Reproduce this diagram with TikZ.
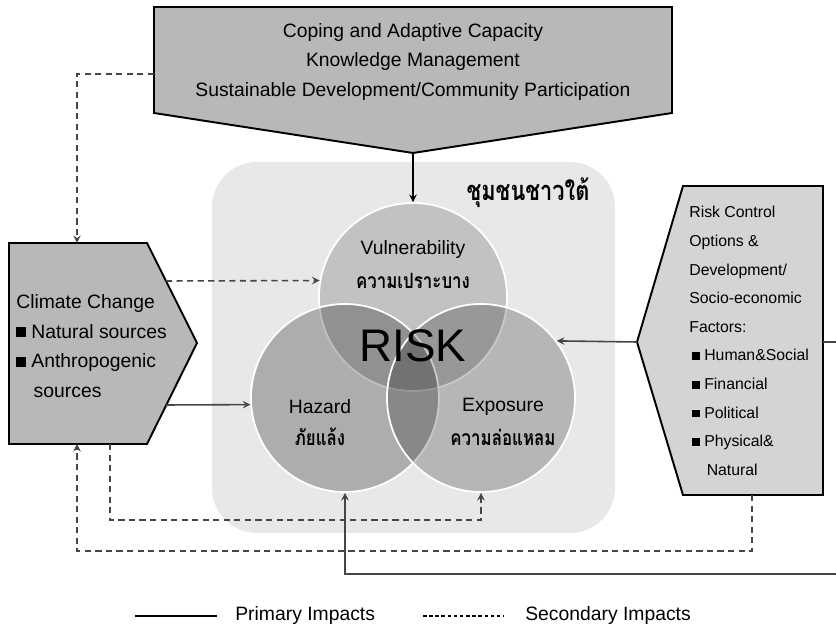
\documentclass[tikz,border=0pt]{standalone}
\usepackage{fontspec}
\setmainfont{Liberation Sans}
\newfontfamily\thaifont[Script=Thai, FakeStretch=0.8]{Loma}
\usepackage{tikz}
\usetikzlibrary{arrows,positioning}
\definecolor{grisCaja}{RGB}{184,184,184}
\definecolor{grisClaro}{RGB}{212,212,212}
\definecolor{grisFondo}{RGB}{232,232,232}
\definecolor{grisLinea}{RGB}{70,70,70}
\newcommand{\sqb}{\rule[0.1ex]{0.5em}{0.5em}}
\tikzstyle{primary}  =[>=stealth, line width=0.9pt, draw=grisLinea]
\tikzstyle{secondary}=[>=stealth, line width=0.9pt, draw=grisLinea,
                       dash pattern=on 3.5pt off 2.5pt]
\tikzstyle{box}      =[draw=black, line width=1.1pt]
\tikzstyle{ring}     =[circle, draw=white, line width=1pt, fill=black,
                       minimum size=37.6mm, inner sep=0pt]
\tikzstyle{txt}      =[font=\fontsize{11}{16.8}\selectfont, inner sep=0pt]
\tikzstyle{small}    =[font=\fontsize{9}{16.3}\selectfont, inner sep=0pt]
\tikzstyle{thai}     =[font=\thaifont\bfseries\fontsize{12}{14}\selectfont, inner sep=0pt]

\begin{document}
\begin{tikzpicture}[x=0.2mm, y=-0.2mm]
    \useasboundingbox (0,0) rectangle (836,626);

    % community background
    \fill[grisFondo, rounded corners=9mm] (212,162) rectangle (615,533);
    \node[thai, font=\thaifont\bfseries\fontsize{15.5}{18}\selectfont] (south) at (528,193) {ชุมชนชาวใต้};

    % coping box
    \draw[box, fill=grisCaja] (154,7) -- (672,7) -- (672,113) -- (413,153) -- (154,113) -- cycle;
    \coordinate (capTip) at (413,153);
    \coordinate (capW) at (154,74);
    \node[txt, align=center] (cap) at (413,62) {Coping and Adaptive Capacity\\
        Knowledge Management\\
        Sustainable Development/Community Participation};

    % climate change box
    \draw[box, fill=grisCaja] (9,243) -- (147,243) -- (197,343) -- (147,444) -- (9,444) -- cycle;
    \coordinate (ccTop) at (77,243);
    \coordinate (ccBotA) at (77,444);
    \coordinate (ccBotB) at (110,444);
    \coordinate (ccUp) at (166,281);
    \coordinate (ccDown) at (166,405);
    \node[txt, align=left, anchor=west] (cc) at (16,346) {Climate Change\\
        \sqb\ Natural sources\\
        \sqb\ Anthropogenic\\
        \hspace*{0.9em}sources};

    % risk control box
    \draw[box, fill=grisClaro] (683,186) -- (823,186) -- (823,495) -- (683,495) -- (637,342) -- cycle;
    \coordinate (rcTip) at (637,342);
    \coordinate (rcE) at (823,342);
    \coordinate (rcBot) at (752,495);
    \node[small, align=left, anchor=west] (rc) at (689,341) {Risk Control\\
        Options \&\\
        Development/\\
        Socio-economic\\
        Factors:\\
        \,\sqb\ Human\&Social\\
        \,\sqb\ Financial\\
        \,\sqb\ Political\\
        \,\sqb\ Physical\&\\
        \hspace*{1.1em}Natural};

    % risk circles
    \node[ring, fill opacity=0.16] (vul) at (413,297) {};
    \node[ring, fill opacity=0.25] (haz) at (345,398) {};
    \node[ring, fill opacity=0.21] (exp) at (481,398) {};

    \node[txt] (vulEn) at (413,250) {Vulnerability};
    \node[thai] (vulTh) at (413,281) {ความเปราะบาง};
    \node[txt] (hazEn) at (320,407) {Hazard};
    \node[thai] (hazTh) at (320,437) {ภัยแล้ง};
    \node[txt] (expEn) at (503,407) {Exposure};
    \node[thai] (expTh) at (503,437) {ความล่อแหลม};
    \node[inner sep=0pt, font=\fontsize{26}{28}\selectfont] (risk) at (413,346) {RISK};

    % impacts
    \coordinate (edgeR) at (836,342);
    \coordinate (edgeB) at (836,574);
    \draw[primary, ->, draw=black] (capTip) -- (vul.north);
    \draw[primary, ->] (ccDown) -- (haz.184);
    \draw[primary, ->] (rcTip) -- (exp.37);
    \draw[primary] (rcE) -- (edgeR);
    \draw[primary, ->] (edgeB) -| (haz.south);

    \draw[secondary, ->] (capW) -| (ccTop);
    \draw[secondary, ->] (ccUp) -- (vul.170);
    \draw[secondary, ->] (ccBotB) |- (481,520) -- (exp.south);
    \draw[secondary, ->] (rcBot) |- (77,551) -- (ccBotA);

    % legend
    \coordinate (legPa) at (135,616);
    \coordinate (legPb) at (217,616);
    \coordinate (legSa) at (423,616);
    \coordinate (legSb) at (503,616);
    \draw[primary, draw=black, line width=1.2pt] (legPa) -- (legPb);
    \node[txt, anchor=west] (legP) at (235,616) {Primary Impacts};
    \draw[secondary, draw=black, line width=0.8pt, dash pattern=on 2pt off 1.5pt] (legSa) -- (legSb);
    \node[txt, anchor=west] (legS) at (525,616) {Secondary Impacts};
\end{tikzpicture}
\end{document}
